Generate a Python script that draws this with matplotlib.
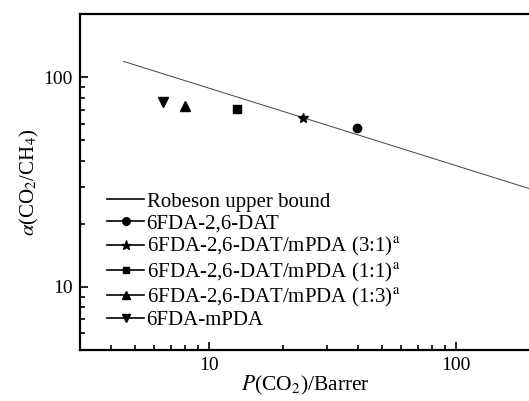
import matplotlib
matplotlib.use("Agg")
import matplotlib.pyplot as plt
from matplotlib.lines import Line2D

plt.rcParams["font.family"] = ["Liberation Serif", "DejaVu Serif"]
plt.rcParams["mathtext.fontset"] = "stix"

# Robeson upper bound (end points)
robeson_p = [4.5, 200]
robeson_a = [119, 29.3]

# membrane data: P(CO2) / Barrer and alpha(CO2/CH4)
names = [
    "6FDA-2,6-DAT",
    "6FDA-2,6-DAT/mPDA (3:1)$^{\\mathrm{a}}$",
    "6FDA-2,6-DAT/mPDA (1:1)$^{\\mathrm{a}}$",
    "6FDA-2,6-DAT/mPDA (1:3)$^{\\mathrm{a}}$",
    "6FDA-mPDA",
]
perm = [39.6, 23.9, 13.0, 8.0, 6.5]
alpha = [57.4, 63.8, 70.6, 72.8, 76.3]
markers = ["o", "*", "s", "^", "v"]
sizes = [6, 7, 5.5, 6.5, 6.5]


def main():
    fig = plt.figure(figsize=(5.29, 4.01), dpi=100)
    ax = fig.add_axes([0.151, 0.127, 0.852, 0.838])

    ax.plot(robeson_p, robeson_a, color="#444444", lw=0.7)
    for p, a, m, s in zip(perm, alpha, markers, sizes):
        ax.plot([p], [a], marker=m, ms=s, color="black", ls="none")

    ax.set_xscale("log")
    ax.set_yscale("log")
    ax.set_xlim(3, 200)
    ax.set_ylim(5, 200)
    ax.set_xticks([10, 100])
    ax.set_xticklabels(["10", "100"])
    ax.set_yticks([10, 100])
    ax.set_yticklabels(["10", "100"])

    ax.tick_params(which="both", direction="in", labelsize=14, width=1.2)
    ax.tick_params(which="major", length=6, pad=5)
    ax.tick_params(which="minor", length=3.5)
    for sp in ax.spines.values():
        sp.set_linewidth(1.6)

    ax.set_xlabel("$P$(CO$_2$)/Barrer", fontsize=15.5, labelpad=0)
    ax.set_ylabel("$\\alpha$(CO$_2$/CH$_4$)", fontsize=15, labelpad=2)

    handles = [Line2D([], [], color="black", lw=1.2)]
    labels = ["Robeson upper bound"]
    for n, m, s in zip(names, markers, sizes):
        handles.append(Line2D([], [], color="black", lw=1.2, marker=m, ms=s - 0.5))
        labels.append(n)
    ax.legend(handles, labels, loc="upper left", bbox_to_anchor=(0.06, 0.47),
              frameon=False, fontsize=15, handlelength=1.8, handletextpad=0.1,
              labelspacing=0.1, borderpad=0, borderaxespad=0)

    fig.savefig("out.png", dpi=100)


if __name__ == "__main__":
    main()
